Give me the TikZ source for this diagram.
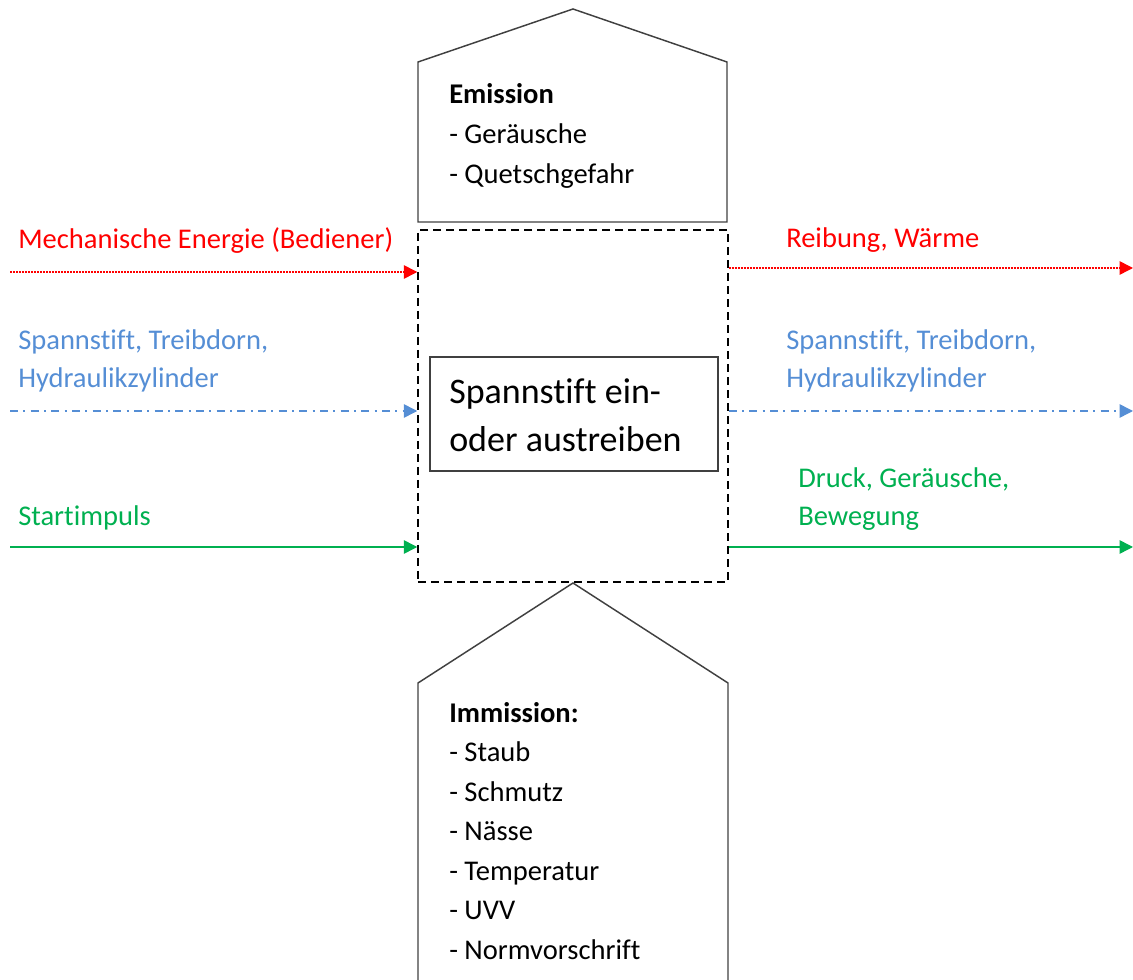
\documentclass[tikz,border=0pt]{standalone}
\usepackage{fontspec}
\setmainfont[Ligatures=NoCommon]{Carlito}
\usetikzlibrary{arrows.meta,positioning}
\definecolor{flowred}{HTML}{FF0000}
\definecolor{flowblue}{HTML}{558ED5}
\definecolor{flowgreen}{HTML}{00B050}
\definecolor{outline}{HTML}{404040}
\begin{document}
\begin{tikzpicture}[x=0.75pt, y=-0.75pt,
  label text/.style={anchor=base west, inner sep=0pt, align=left, font=\fontsize{21.4}{29.6}\selectfont},
  flow/.style={line width=1.1pt, -{Triangle[length=10pt,width=10pt]}},
  energy/.style={flow, flowred, dash pattern=on 1.5pt off 0.75pt},
  material/.style={flow, flowblue, dash pattern=on 6pt off 4pt on 1.5pt off 4pt},
  signal/.style={flow, flowgreen}]
\useasboundingbox (0,0) rectangle (1133,980);

% system boundary and main function
\node[draw=black, line width=1.1pt, dash pattern=on 6pt off 3.75pt, minimum width=232.5pt, minimum height=264pt, inner sep=0pt] (system) at (573,406) {};
\node[draw=outline, line width=1.1pt, minimum width=216pt, minimum height=85.5pt, inner sep=0pt] (task) at (574,414) {};
\node[anchor=base west, inner sep=0pt, align=left, font=\fontsize{27}{36}\selectfont] (tasktext) at (449,452) {Spannstift ein-\\oder austreiben};

% emission and immission
\draw[outline, line width=1.1pt] (418,222) -- (418,62) -- (573,9) -- (727,62) -- (727,222) -- cycle;
\node[label text, font=\fontsize{21.4}{30}\selectfont] (emission) at (449,184) {\textbf{Emission}\\- Geräusche\\- Quetschgefahr};
\draw[outline, line width=1.1pt] (418,995) -- (418,683) -- (573,583) -- (728,683) -- (728,995);
\node[label text] (immission) at (449,959) {\textbf{Immission:}\\- Staub\\- Schmutz\\- Nässe\\- Temperatur\\- UVV\\- Normvorschrift};

% inputs
\coordinate (energyin) at (10,272);
\coordinate (materialin) at (10,411);
\coordinate (signalin) at (10,547);
\draw[energy] (energyin) -- (energyin -| system.west);
\draw[material] (materialin) -- (materialin -| system.west);
\draw[signal] (signalin) -- (signalin -| system.west);
\node[label text, text=flowred] (energyinlabel) at (18,249) {Mechanische Energie (Bediener)};
\node[label text, text=flowblue, font=\fontsize{21.4}{29.2}\selectfont] (materialinlabel) at (18,388) {Spannstift, Treibdorn,\\Hydraulikzylinder};
\node[label text, text=flowgreen] (signalinlabel) at (18,526) {Startimpuls};

% outputs
\coordinate (energyout) at (1133,268);
\coordinate (materialout) at (1133,411);
\coordinate (signalout) at (1133,547);
\draw[energy] (energyout -| system.east) -- (energyout);
\draw[material] (materialout -| system.east) -- (materialout);
\draw[signal] (signalout -| system.east) -- (signalout);
\node[label text, text=flowred] (energyoutlabel) at (786,248) {Reibung, Wärme};
\node[label text, text=flowblue, font=\fontsize{21.4}{29.2}\selectfont] (materialoutlabel) at (786,388) {Spannstift, Treibdorn,\\Hydraulikzylinder};
\node[label text, text=flowgreen, font=\fontsize{21.4}{29.2}\selectfont] (signaloutlabel) at (798,526) {Druck, Geräusche,\\Bewegung};
\end{tikzpicture}
\end{document}
